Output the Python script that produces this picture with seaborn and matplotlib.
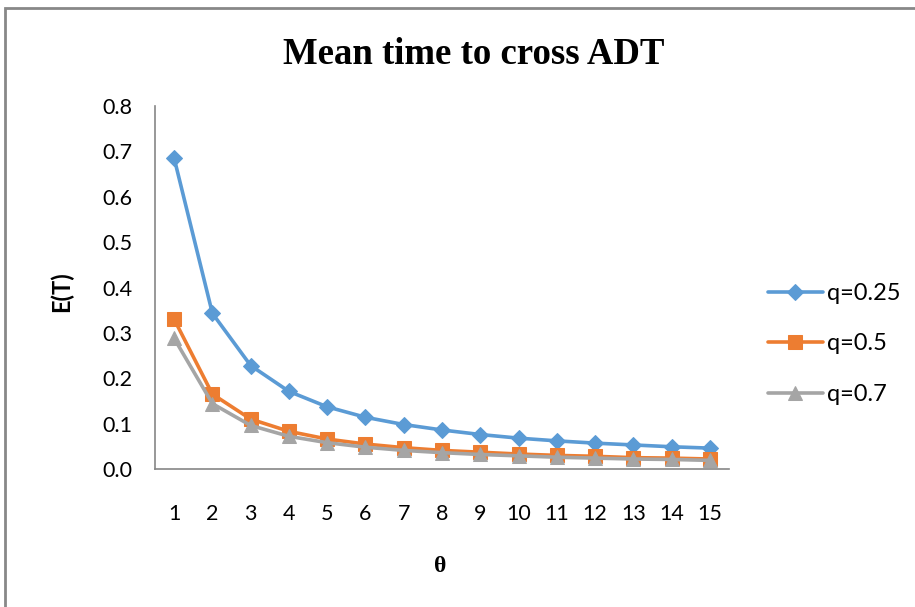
import matplotlib
matplotlib.use("Agg")
import matplotlib.pyplot as plt
import seaborn as sns
import pandas as pd
from matplotlib.patches import Rectangle

theta = list(range(1, 16))
q025 = [0.685, 0.343, 0.228, 0.171, 0.137, 0.114, 0.098, 0.086, 0.076, 0.068, 0.062, 0.057, 0.053, 0.049, 0.046]
q05 = [0.330, 0.165, 0.110, 0.083, 0.066, 0.055, 0.047, 0.041, 0.037, 0.033, 0.030, 0.028, 0.025, 0.024, 0.022]
q07 = [0.288, 0.144, 0.096, 0.072, 0.058, 0.048, 0.041, 0.036, 0.032, 0.029, 0.026, 0.024, 0.022, 0.021, 0.019]
series_names = ["q=0.25", "q=0.5", "q=0.7"]
y_ticks = [0.0, 0.1, 0.2, 0.3, 0.4, 0.5, 0.6, 0.7, 0.8]

sns.set_theme(style="white")
plt.rcParams['font.family'] = ['Lato', 'DejaVu Sans']
for k in ["text.color", "axes.labelcolor", "xtick.color", "ytick.color"]:
    plt.rcParams[k] = "black"

fig = plt.figure(figsize=(9.15, 6.07), dpi=100)
ax = fig.add_axes([155/915, 1-469/607, (729-155)/915, (469-106)/607])

colors = ["#5B9BD5", "#ED7D31", "#A5A5A5"]
markers = ["D", "s", "^"]
msizes = [8, 10, 10]
for vals, name, c, m, ms in zip([q025, q05, q07], series_names, colors, markers, msizes):
    df = pd.DataFrame({"theta": theta, "E": vals})
    sns.lineplot(data=df, x="theta", y="E", ax=ax, color=c, marker=m, markersize=ms,
                 markeredgecolor=c, linewidth=2.6, label=name)

ax.set_xlim(0.5, 15.5)
ax.set_ylim(0, 0.8)
ax.set_xticks(theta)
ax.set_xticklabels([str(t) for t in theta], fontsize=15.5)
ax.set_yticks(y_ticks)
ax.set_yticklabels([f"{v:.1f}" for v in y_ticks], fontsize=15.5)
ax.tick_params(axis='x', length=0, pad=25)
ax.tick_params(axis='y', length=6, width=1, color="#868686", direction='out', pad=10)
for s in ["top", "right"]:
    ax.spines[s].set_visible(False)
for s in ["left", "bottom"]:
    ax.spines[s].set_color("#868686")
    ax.spines[s].set_linewidth(1.2)

ax.set_xlabel("θ", fontsize=17, fontweight="bold", family=["Liberation Serif", "DejaVu Serif"])
ax.xaxis.label.set_va("center")
ax.xaxis.set_label_coords((440-155)/574, -(566-469)/363)
ax.set_ylabel("E(T)", fontsize=17, fontweight="bold")
ax.yaxis.label.set_va("center")
ax.yaxis.set_label_coords((61-155)/574, (469-292)/363)

fig.text(474/915, 1-54/607, "Mean time to cross ADT", ha="center", va="center",
         fontsize=26.5, fontweight="bold", family=["Liberation Serif", "DejaVu Serif"])

fs = 17
leg = ax.legend(loc="center left", bbox_to_anchor=(747/915, 1-344/607), bbox_transform=fig.transFigure,
                frameon=False, fontsize=fs, handlelength=2.3, labelspacing=1.25, handletextpad=0.2)

fig.patches.append(Rectangle((5/915, -0.1), 1.2, 1 - 8/607 + 0.1, transform=fig.transFigure,
                             fill=False, edgecolor="#888888", linewidth=2))

fig.savefig("out.png", dpi=100)
